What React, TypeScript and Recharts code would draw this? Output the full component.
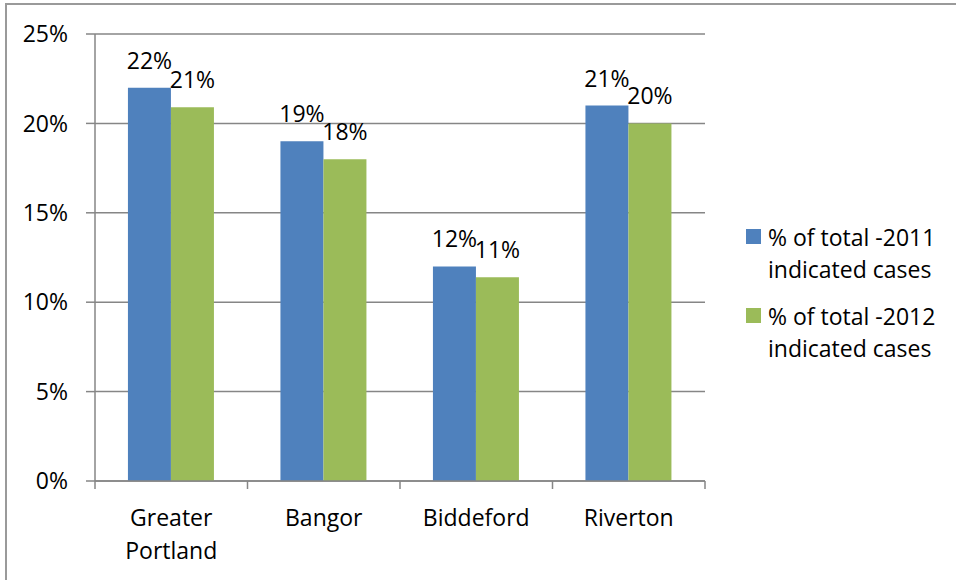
import { BarChart, Bar, XAxis, YAxis, CartesianGrid, Legend, LabelList } from "recharts";

const categories = ["Greater Portland", "Bangor", "Biddeford", "Riverton"];
const share2011 = [0.22, 0.19, 0.12, 0.21];
const share2012 = [0.209, 0.18, 0.114, 0.2];
const yTicks = [0, 0.05, 0.1, 0.15, 0.2, 0.25];

const series = [
    { key: "y2011", name: "% of total -2011 indicated cases", color: "#4F81BD" },
    { key: "y2012", name: "% of total -2012 indicated cases", color: "#9BBB59" },
];

const data = categories.map((name, i) => ({ name, y2011: share2011[i], y2012: share2012[i] }));

const FONT = "'Open Sans', sans-serif";
const FONT_SIZE = 23;
const AXIS_GRAY = "#868686";

const WIDTH = 956;
const HEIGHT = 580;
const X_AXIS_HEIGHT = 30;
const MARGIN = { top: 34, right: 251, bottom: 99 - X_AXIS_HEIGHT, left: 0 };
const Y_AXIS_WIDTH = 95;
const BAND = (WIDTH - MARGIN.left - MARGIN.right - Y_AXIS_WIDTH) / categories.length;

const pct = (v: number) => `${Math.round(v * 100)}%`;

// category label, split into lines, plus tick marks on the band edges
function CategoryTick(props: any) {
    const { x, y, payload, index } = props;
    const lines = String(payload.value).split(" ");
    const last = index === categories.length - 1;
    return (
        <g>
            <line x1={x - BAND / 2} x2={x - BAND / 2} y1={y} y2={y + 8} stroke={AXIS_GRAY} strokeWidth={1.5} />
            {last && <line x1={x + BAND / 2} x2={x + BAND / 2} y1={y} y2={y + 8} stroke={AXIS_GRAY} strokeWidth={1.5} />}
            <text x={x} y={y + 45} textAnchor="middle" fontSize={FONT_SIZE} fontFamily={FONT} fill="#000">
                {lines.map((l, i) => (
                    <tspan key={i} x={x} dy={i === 0 ? 0 : 33}>
                        {l}
                    </tspan>
                ))}
            </text>
        </g>
    );
}

function ValueLabel(props: any) {
    const { x, y, width, value } = props;
    return (
        <text x={x + width / 2} y={y - 19} textAnchor="middle" fontSize={FONT_SIZE} fontFamily={FONT} fill="#000">
            {pct(value)}
        </text>
    );
}

function LegendBox({ payload }: any) {
    return (
        <div style={{ fontFamily: FONT, fontSize: FONT_SIZE, lineHeight: "32px", color: "#000" }}>
            {(payload || []).map((entry: any, i: number) => {
                const words = String(entry.value);
                const cut = words.lastIndexOf(" ", words.indexOf("indicated"));
                return (
                    <div key={i} style={{ position: "relative", paddingLeft: 22, marginBottom: 15 }}>
                        <span
                            style={{
                                position: "absolute",
                                left: 0,
                                top: 8,
                                width: 15,
                                height: 15,
                                background: entry.color,
                            }}
                        />
                        <div>{words.slice(0, cut)}</div>
                        <div>{words.slice(cut + 1)}</div>
                    </div>
                );
            })}
        </div>
    );
}

export default function App() {
    return (
        <div style={{ position: "absolute", left: 0, top: 0, width: WIDTH, height: HEIGHT, background: "#fff", overflow: "hidden" }}>
            <div
                style={{
                    position: "absolute",
                    left: 5,
                    top: 3,
                    width: WIDTH,
                    height: HEIGHT,
                    borderTop: "2px solid #9a9a9a",
                    borderLeft: "2px solid #9a9a9a",
                }}
            />
            <div style={{ position: "absolute", left: 0, top: 0 }}>
                <BarChart
                    width={WIDTH}
                    height={HEIGHT}
                    data={data}
                    margin={MARGIN}
                    barCategoryGap="21.6%"
                    barGap={0}
                >
                    <CartesianGrid vertical={false} stroke={AXIS_GRAY} strokeWidth={1.5} />
                    <XAxis
                        dataKey="name"
                        height={X_AXIS_HEIGHT}
                        tickSize={0}
                        tickMargin={0}
                        tickLine={false}
                        axisLine={{ stroke: AXIS_GRAY, strokeWidth: 1.5 }}
                        tick={<CategoryTick />}
                        interval={0}
                    />
                    <YAxis
                        width={Y_AXIS_WIDTH}
                        domain={[0, 0.25]}
                        ticks={yTicks}
                        tickFormatter={pct}
                        tickSize={9}
                        tickMargin={18}
                        tickLine={{ stroke: AXIS_GRAY, strokeWidth: 1.5 }}
                        axisLine={{ stroke: AXIS_GRAY, strokeWidth: 1.5 }}
                        tick={{ fill: "#000", fontSize: FONT_SIZE, fontFamily: FONT }}
                    />
                    <Legend
                        layout="vertical"
                        align="center"
                        verticalAlign="middle"
                        content={<LegendBox />}
                        wrapperStyle={{ left: 746, top: 221, width: 210 }}
                    />
                    {series.map((s) => (
                        <Bar key={s.key} dataKey={s.key} name={s.name} fill={s.color} isAnimationActive={false}>
                            <LabelList dataKey={s.key} content={<ValueLabel />} />
                        </Bar>
                    ))}
                </BarChart>
            </div>
        </div>
    );
}
